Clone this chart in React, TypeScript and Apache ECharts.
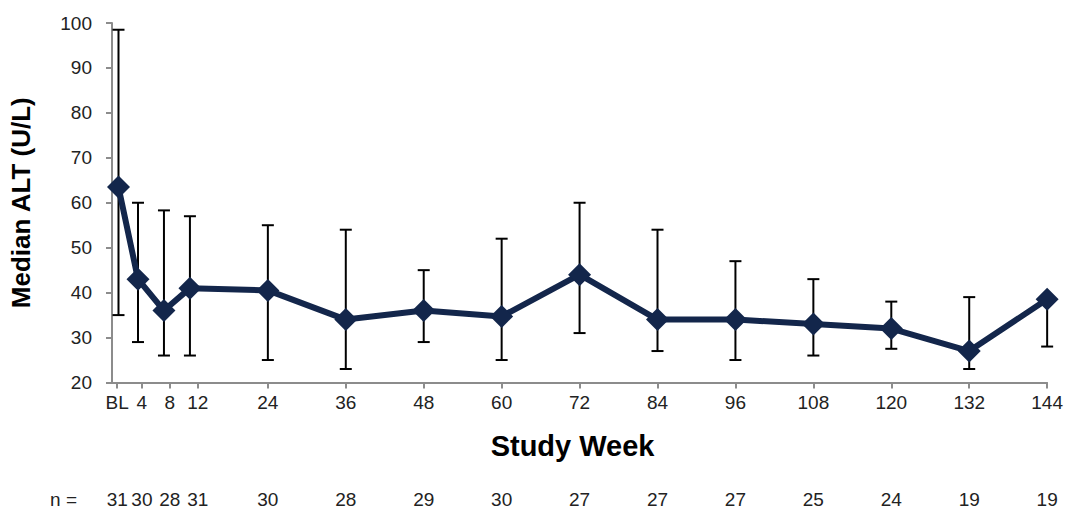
import React, { useEffect, useRef } from "react";
import * as echarts from "echarts";

// Study weeks at which the medians were measured (BL plotted just after the axis origin)
const weekValues = [1, 4, 8, 12, 24, 36, 48, 60, 72, 84, 96, 108, 120, 132, 144];
// Tick label text and where each tick sits on the week scale of the original chart
const tickLabels = ["BL", "4", "8", "12", "24", "36", "48", "60", "72", "84", "96", "108", "120", "132", "144"];
const tickWeeks = [0.8, 4.6, 8.9, 13.2, 24, 36, 48, 60, 72, 84, 96, 108, 120, 132, 144];
const medianALT = [63.5, 43, 36, 41, 40.5, 34, 36, 34.7, 44, 34, 34, 33, 32, 27, 38.5];
const upperALT = [98.5, 60, 58.3, 57, 55, 54, 45, 52, 60, 54, 47, 43, 38, 39, 38.5];
const lowerALT = [35, 29, 26, 26, 25, 23, 29, 25, 31, 27, 25, 26, 27.5, 23, 28];
const nValues = [31, 30, 28, 31, 30, 28, 29, 30, 27, 27, 27, 25, 24, 19, 19];
const yTicks = [20, 30, 40, 50, 60, 70, 80, 90, 100];

const FONT = "'Liberation Sans', Arial, sans-serif";
const NAVY = "#13264B";

export default function App() {
  const ref = useRef<HTMLDivElement>(null);
  useEffect(() => {
    if (!ref.current) return;
    const chart = echarts.init(ref.current, undefined, { renderer: "svg" });
    const idx = (v: number) => tickWeeks.findIndex((t) => Math.abs(t - v) < 1e-6);
    const labelFor = (v: number) => {
      const i = idx(v);
      return i >= 0 ? tickLabels[i] : "";
    };
    const nFor = (v: number) => {
      const i = idx(v);
      return i >= 0 ? String(nValues[i]) : "";
    };
    chart.setOption({
      animation: false,
      backgroundColor: "#ffffff",
      textStyle: { fontFamily: FONT },
      grid: { left: 110, right: 18, top: 23, bottom: 126, containLabel: false },
      xAxis: [
        {
          type: "value",
          min: 0,
          max: 144,
          name: "Study Week",
          nameLocation: "middle",
          nameGap: 49,
          nameTextStyle: {
            fontSize: 29,
            fontWeight: "bold",
            color: "#000",
            fontFamily: FONT,
            padding: [0, 14, 0, 0],
          },
          axisLine: { show: true, lineStyle: { color: "#8c8c8c", width: 2 } },
          axisTick: { show: true, length: 6, customValues: tickWeeks, lineStyle: { color: "#8c8c8c", width: 2 } },
          axisLabel: {
            customValues: tickWeeks,
            formatter: (v: number) => labelFor(v),
            fontSize: 19,
            color: "#222",
            margin: 10,
            fontFamily: FONT,
          },
          splitLine: { show: false },
        },
        {
          type: "value",
          min: 0,
          max: 144,
          position: "bottom",
          offset: 117,
          name: "n =",
          nameLocation: "start",
          nameGap: 35,
          nameTextStyle: { fontSize: 19, color: "#222", fontFamily: FONT, verticalAlign: "middle" },
          axisLine: { show: false },
          axisTick: { show: false },
          axisLabel: {
            customValues: tickWeeks,
            formatter: (v: number) => nFor(v),
            fontSize: 19,
            color: "#222",
            margin: 0,
            verticalAlign: "middle",
            fontFamily: FONT,
          },
          splitLine: { show: false },
        },
      ],
      yAxis: {
        type: "value",
        min: yTicks[0],
        max: yTicks[yTicks.length - 1],
        interval: 10,
        name: "Median ALT (U/L)",
        nameLocation: "middle",
        nameGap: 78,
        nameTextStyle: { fontSize: 26, fontWeight: "bold", color: "#000", fontFamily: FONT },
        axisLine: { show: true, lineStyle: { color: "#8c8c8c", width: 2 } },
        axisTick: { show: true, length: 6, lineStyle: { color: "#8c8c8c", width: 2 } },
        axisLabel: { fontSize: 19, color: "#222", margin: 20, fontFamily: FONT },
        splitLine: { show: false },
      },
      series: [
        {
          type: "custom",
          xAxisIndex: 0,
          z: 2,
          data: weekValues.map((w, i) => [w, lowerALT[i], upperALT[i]]),
          encode: { x: 0, y: [1, 2] },
          renderItem: (_params: any, api: any) => {
            const x = api.value(0);
            const lo = api.coord([x, api.value(1)]);
            const hi = api.coord([x, api.value(2)]);
            const hw = 6;
            const style = { stroke: "#000", lineWidth: 2 };
            return {
              type: "group",
              children: [
                { type: "line", shape: { x1: lo[0], y1: lo[1], x2: hi[0], y2: hi[1] }, style },
                { type: "line", shape: { x1: lo[0] - hw, y1: lo[1], x2: lo[0] + hw, y2: lo[1] }, style },
                { type: "line", shape: { x1: hi[0] - hw, y1: hi[1], x2: hi[0] + hw, y2: hi[1] }, style },
              ],
            };
          },
        },
        {
          type: "line",
          xAxisIndex: 0,
          z: 3,
          data: weekValues.map((w, i) => [w, medianALT[i]]),
          symbol: "diamond",
          symbolSize: 23,
          showSymbol: true,
          lineStyle: { color: NAVY, width: 6 },
          itemStyle: { color: NAVY },
        },
      ],
    });
    return () => chart.dispose();
  }, []);
  return (
    <div
      ref={ref}
      style={{ position: "fixed", left: 0, top: 0, width: 1066, height: 509, background: "#fff" }}
    />
  );
}
